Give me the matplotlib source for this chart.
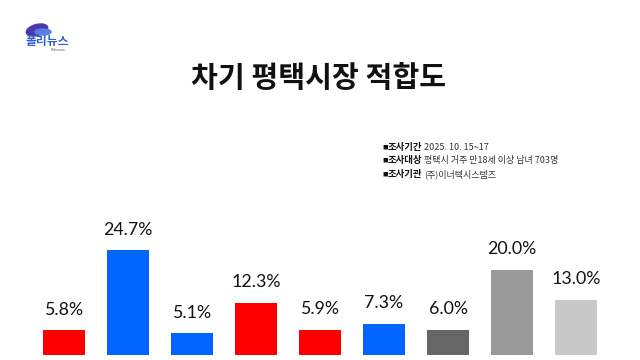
import matplotlib

matplotlib.use("Agg")

import matplotlib.pyplot as plt  # noqa: E402
from matplotlib.patches import Ellipse  # noqa: E402

plt.rcParams["font.family"] = ["Noto Sans CJK KR", "DejaVu Sans"]

# survey results, one bar per candidate (names not shown in the source)
values = [5.8, 24.7, 5.1, 12.3, 5.9, 7.3, 6.0, 20.0, 13.0]
colors = ["#FF0000", "#0066FF", "#0066FF", "#FF0000", "#FF0000",
          "#0066FF", "#666666", "#999999", "#C8C8C8"]
labels = [f"{v:.1f}%" for v in values]

title = "차기 평택시장 적합도"
info_keys = ["조사기간", "조사대상", "조사기관"]
info_vals = ["2025. 10. 15~17", "평택시 거주 만18세 이상 남녀 703명", "(주)이너텍시스템즈"]

W, H = 640, 360
fig = plt.figure(figsize=(6.4, 3.6), dpi=100)
fig.patch.set_facecolor("white")

# bar area: centers at 64px spacing, baseline at y=355px
ax = fig.add_axes([32 / W, 5 / H, 576 / W, 35 * 4.25 / H])
x = range(len(values))
ax.bar(x, values, width=0.66, color=colors)
ax.set_xlim(-0.5, len(values) - 0.5)
ax.set_ylim(0, 35)
ax.axis("off")
for xi, v, lab in zip(x, values, labels):
    ax.annotate(lab, (xi, v), xytext=(0, 9), textcoords="offset points",
                ha="center", va="bottom", fontsize=12.8, color="#111111",
                family=["Lato", "DejaVu Sans"])

# title
fig.text(319 / W, 1 - 78 / H, title, ha="center", va="center",
         fontsize=21, fontweight="black", color="#111111")

# survey info block
for i, (k, v) in enumerate(zip(info_keys, info_vals)):
    yy = 1 - (147 + 13.5 * i) / H
    fig.text(382 / W, yy, "■", ha="left", va="center", fontsize=4, color="#111111")
    fig.text(387.5 / W, yy, k, ha="left", va="center", fontsize=6.8,
             fontweight="bold", color="#111111")
    fig.text(424 / W, yy, v, ha="left", va="center", fontsize=6.5, color="#333333")

# logo in top-left corner
logo = fig.add_axes([0, 0, 1, 1], facecolor="none")
logo.set_xlim(0, W)
logo.set_ylim(H, 0)
logo.axis("off")
logo.add_patch(Ellipse((37, 30), 22, 11, angle=-15, color="#4a3aa8"))
logo.add_patch(Ellipse((43, 32), 16, 6, color="#5a7ee0"))
logo.text(47, 42, "폴리뉴스", ha="center", va="center", fontsize=8.5,
          fontweight="bold", color="#2f5fd0")
logo.text(58, 50, "Polinews", ha="center", va="center", fontsize=2.5, color="#555555")

fig.savefig("out.png", dpi=100, facecolor="white")
